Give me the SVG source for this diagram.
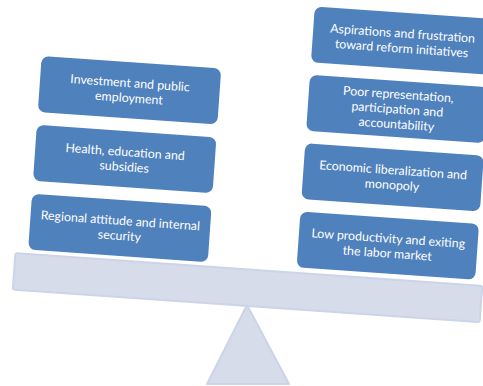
<svg xmlns="http://www.w3.org/2000/svg" width="483" height="386" viewBox="0 0 483 386">
  <style>
    .box { fill: #4f81bd; }
    .lbl { fill: #ffffff; font-family: Lato, "Liberation Sans", sans-serif; font-size: 12.4px; text-anchor: middle; }
    .beam { fill: #d6dcea; stroke: #ccd4e7; stroke-width: 2; }
  </style>
  <rect width="483" height="386" fill="#ffffff"/>
  <g id="fulcrum">
    <polygon class="beam" points="247,305 207,384 289,384" stroke-linejoin="round"/>
  </g>
  <g transform="rotate(4)">
    <g id="plank">
      <rect class="beam" x="33" y="251.5" width="468" height="36.5" rx="2"/>
    </g>
    <g id="left1">
      <rect class="box" x="45.5" y="53" width="180" height="56" rx="7"/>
      <text class="lbl" x="135.5" y="78">Investment and public</text>
      <text class="lbl" x="135.5" y="93">employment</text>
    </g>
    <g id="left2">
      <rect class="box" x="45.5" y="122" width="180" height="56" rx="7"/>
      <text class="lbl" x="135.5" y="147">Health, education and</text>
      <text class="lbl" x="135.5" y="162">subsidies</text>
    </g>
    <g id="left3">
      <rect class="box" x="45.5" y="191" width="180" height="56" rx="7"/>
      <text class="lbl" x="135.5" y="216">Regional attitude and internal</text>
      <text class="lbl" x="135.5" y="231">security</text>
    </g>
    <g id="right1">
      <rect class="box" x="314.5" y="-15.5" width="179" height="56" rx="7"/>
      <text class="lbl" x="404" y="9.5">Aspirations and frustration</text>
      <text class="lbl" x="404" y="24.5">toward reform initiatives</text>
    </g>
    <g id="right2">
      <rect class="box" x="314.5" y="53" width="179" height="56" rx="7"/>
      <text class="lbl" x="404" y="70.5">Poor representation,</text>
      <text class="lbl" x="404" y="85.5">participation and</text>
      <text class="lbl" x="404" y="100.5">accountability</text>
    </g>
    <g id="right3">
      <rect class="box" x="314.5" y="121.5" width="179" height="56" rx="7"/>
      <text class="lbl" x="404" y="146.5">Economic liberalization and</text>
      <text class="lbl" x="404" y="161.5">monopoly</text>
    </g>
    <g id="right4">
      <rect class="box" x="314.5" y="190" width="179" height="56" rx="7"/>
      <text class="lbl" x="404" y="215">Low productivity and exiting</text>
      <text class="lbl" x="404" y="230">the labor market</text>
    </g>
  </g>
  <g id="connectors"/>
</svg>
